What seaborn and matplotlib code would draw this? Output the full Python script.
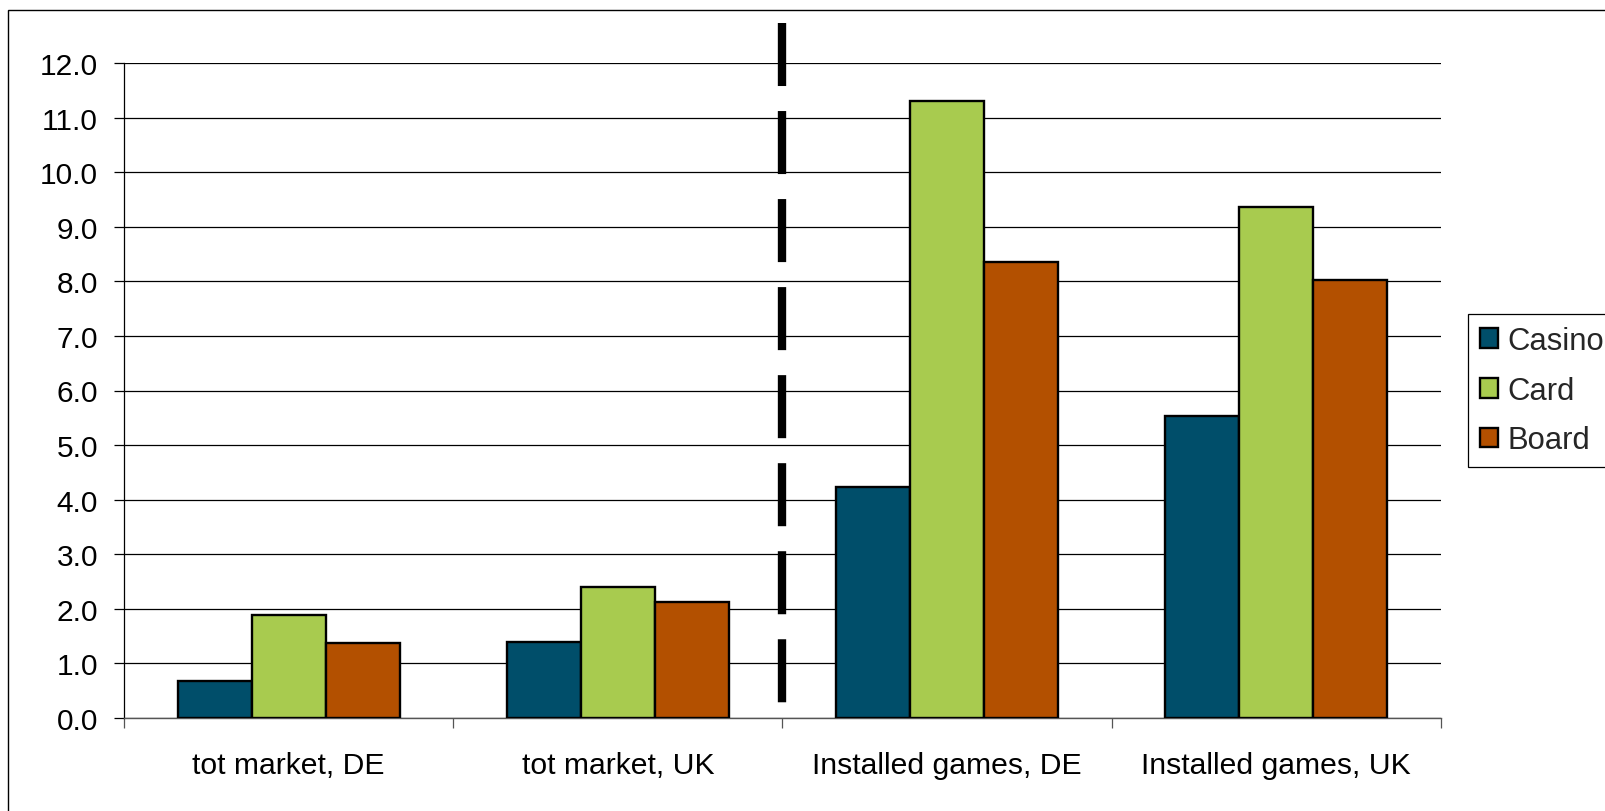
import matplotlib
matplotlib.use("Agg")
import matplotlib.pyplot as plt
from matplotlib.patches import Rectangle
from matplotlib.ticker import FormatStrFormatter, MultipleLocator, FixedLocator
import seaborn as sns
import pandas as pd

categories = ["tot market, DE", "tot market, UK", "Installed games, DE", "Installed games, UK"]
series = ["Casino", "Card", "Board"]
casino = [0.68, 1.39, 4.24, 5.53]
card = [1.89, 2.40, 11.31, 9.36]
board = [1.38, 2.12, 8.36, 8.03]
colors = ["#004E6A", "#A8CB4F", "#B35000"]

rows = []
for name, vals in zip(series, [casino, card, board]):
    for c, v in zip(categories, vals):
        rows.append({"category": c, "series": name, "value": v})
df = pd.DataFrame(rows)

sns.set_style("white")
plt.rcParams["font.family"] = ["Liberation Sans", "DejaVu Sans"]

W, H = 1606, 812
fig = plt.figure(figsize=(W / 100, H / 100), dpi=100)
ax = fig.add_axes([124 / W, (H - 719) / H, (1441 - 124) / W, (719 - 64) / H])

sns.barplot(data=df, x="category", y="value", hue="series", order=categories,
            hue_order=series, palette=colors, width=0.675, saturation=1,
            edgecolor="black", linewidth=1.7, ax=ax, legend=True, zorder=3)

ax.set_ylim(0, 12)
ax.set_xlim(-0.5, 3.5)
ax.yaxis.set_major_locator(MultipleLocator(1))
ax.yaxis.set_major_formatter(FormatStrFormatter("%.1f"))
ax.grid(axis="y", color="black", linewidth=0.9, zorder=0)
ax.grid(axis="x", visible=False)
ax.set_axisbelow(True)
ax.set_xlabel("")
ax.set_ylabel("")

for s in ["top", "right"]:
    ax.spines[s].set_visible(False)
ax.spines["left"].set_color("black")
ax.spines["left"].set_linewidth(0.9)
ax.spines["bottom"].set_color("#555555")
ax.spines["bottom"].set_linewidth(1.0)

ax.tick_params(axis="y", which="major", left=True, length=7.2, width=0.9,
               color="black", labelsize=21.5, pad=11.5, labelcolor="black")
ax.tick_params(axis="x", which="major", bottom=False, length=0, labelsize=21.7,
               pad=24, labelcolor="black")
ax.xaxis.set_minor_locator(FixedLocator([-0.5, 0.5, 1.5, 2.5, 3.5]))
ax.tick_params(axis="x", which="minor", bottom=True, length=7.2, width=0.9,
               color="#555555")

# divider between market totals and installed games
ax.plot([1.5, 1.5], [12.73, 0.275], color="black", linewidth=6.0,
        linestyle=(0, (63 / 8.33, 25 / 8.33)), dash_capstyle="butt",
        clip_on=False, zorder=4)

leg = ax.get_legend()
handles = leg.legend_handles
leg.remove()
fig.legend(handles, series, loc="upper left",
           bbox_to_anchor=(1468 / W, 1 - 315 / H), bbox_transform=fig.transFigure,
           frameon=True, fancybox=False, edgecolor="black", framealpha=1,
           fontsize=22.3, handlelength=0.6, handleheight=0.6,
           handletextpad=0.3, labelspacing=0.64, borderpad=0.38,
           borderaxespad=0)
fig.legends[0].get_frame().set_linewidth(0.9)

fig.add_artist(Rectangle((8 / W, -0.1), 1.2, (H - 11) / H + 0.1,
                         transform=fig.transFigure, fill=False,
                         edgecolor="black", linewidth=1.0))

fig.savefig("out.png", dpi=100)
